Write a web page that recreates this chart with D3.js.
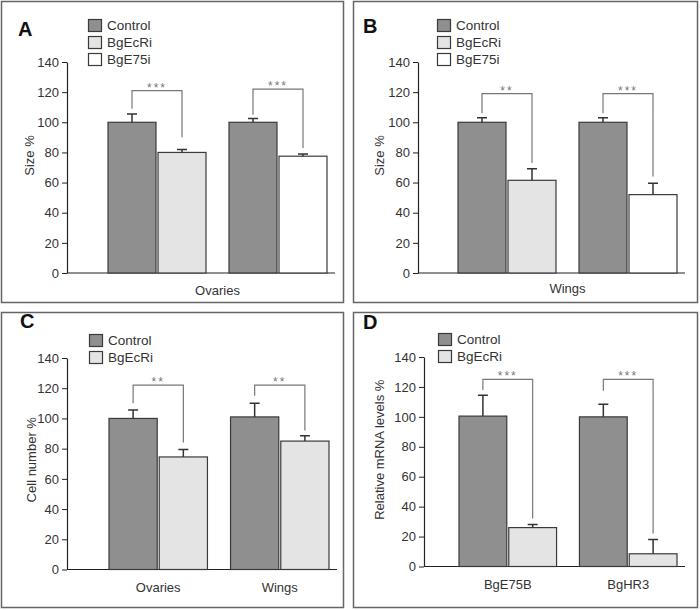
<!DOCTYPE html>
<html>
<head>
<meta charset="utf-8">
<script src="https://cdn.jsdelivr.net/npm/d3@7"></script>
<style>
  body { margin: 0; background: #fff; }
  svg { font-family: "Liberation Sans", Arial, sans-serif; }
</style>
</head>
<body>
<div id="chart"></div>
<script>
// Shared ticks and legend colours
const yTicks = [0, 20, 40, 60, 80, 100, 120, 140];
const seriesNames = ["Control", "BgEcRi", "BgE75i"];
const seriesColors = ["#8f8f8f", "#e4e4e4", "#ffffff"];

// Panel A - size, ovaries
const aCategories = ["Ovaries"];
const aPairs = [["Control", "BgEcRi"], ["Control", "BgE75i"]];
const aMeans = [[100, 80], [100, 77.5]];
const aErrors = [[5.5, 2], [2.5, 1.5]];
const aStars = ["***", "***"];
const aBrackets = [[121, 109, 90], [122, 105, 83]]; // top, left end, right end

// Panel B - size, wings
const bCategories = ["Wings"];
const bPairs = [["Control", "BgEcRi"], ["Control", "BgE75i"]];
const bMeans = [[100, 61.5], [100, 52]];
const bErrors = [[3, 7.7], [3, 7.5]];
const bStars = ["**", "***"];
const bBrackets = [[119, 106, 73], [119, 106, 64]];

// Panel C - cell number
const cCategories = ["Ovaries", "Wings"];
const cPairs = [["Control", "BgEcRi"], ["Control", "BgEcRi"]];
const cMeans = [[100, 74.5], [101, 85]];
const cErrors = [[5.5, 5], [9, 3.5]];
const cStars = ["**", "**"];
const cBrackets = [[122, 110, 84], [122, 115, 92]];

// Panel D - relative mRNA
const dCategories = ["BgE75B", "BgHR3"];
const dPairs = [["Control", "BgEcRi"], ["Control", "BgEcRi"]];
const dMeans = [[100.5, 26], [100, 8.5]];
const dErrors = [[14, 2], [8.5, 9.5]];
const dStars = ["***", "***"];
const dBrackets = [[125, 118, 32], [125, 117.5, 22]];

const svg = d3.select("#chart").append("svg")
    .attr("width", 700)
    .attr("height", 610);

const color = d3.scaleOrdinal().domain(seriesNames).range(seriesColors);

function drawPanel(p) {
    const g = svg.append("g");

    // Frame
    g.append("rect")
        .attr("x", p.frame[0] + 0.5).attr("y", p.frame[1] + 0.5)
        .attr("width", p.frame[2]).attr("height", p.frame[3])
        .attr("fill", "none").attr("stroke", "#666").attr("stroke-width", 1.5);

    // Panel letter
    g.append("text")
        .attr("x", p.letterPos[0]).attr("y", p.letterPos[1])
        .attr("font-size", 20).attr("font-weight", "bold")
        .attr("fill", "#111")
        .text(p.letter);

    const y = d3.scaleLinear().domain([0, 140]).range([p.y0, p.yTop]);
    const x = d3.scaleBand()
        .domain(d3.range(p.means.length))
        .range([p.barStart, p.barEnd])
        .paddingInner(0.19).paddingOuter(0);
    const xInner = d3.scaleBand()
        .domain([0, 1])
        .range([0, x.bandwidth()])
        .paddingInner(0.04);

    // Y axis
    const yAxis = g.append("g")
        .attr("transform", `translate(${p.axisX},0)`)
        .call(d3.axisLeft(y).tickValues(yTicks).tickSize(5).tickSizeOuter(0).tickPadding(3));
    yAxis.select(".domain").attr("stroke", "#222").attr("stroke-width", 1.2);
    yAxis.selectAll(".tick line").attr("stroke", "#222").attr("stroke-width", 1);
    yAxis.selectAll(".tick text")
        .attr("font-size", 13).attr("fill", "#333")
        .style("font-family", "Liberation Sans, Arial, sans-serif");

    // X axis baseline
    g.append("line")
        .attr("x1", p.axisX).attr("x2", p.barEnd + 8)
        .attr("y1", y(0)).attr("y2", y(0))
        .attr("stroke", "#222").attr("stroke-width", 1.2);

    // Y label
    g.append("text")
        .attr("transform", `translate(${p.yLabelX},${(y(0) + y(140)) / 2 + p.yLabelShift}) rotate(-90)`)
        .attr("text-anchor", "middle")
        .attr("dominant-baseline", "middle")
        .attr("font-size", 13).attr("fill", "#333")
        .text(p.yLabel);

    // Category labels
    if (p.categories.length === 1) {
        g.append("text")
            .attr("x", (p.barStart + p.barEnd) / 2).attr("y", p.catY)
            .attr("text-anchor", "middle")
            .attr("font-size", 13).attr("fill", "#333")
            .text(p.categories[0]);
    } else {
        g.selectAll(".cat")
            .data(p.categories)
            .enter().append("text")
            .attr("x", (d, i) => x(i) + x.bandwidth() / 2)
            .attr("y", p.catY)
            .attr("text-anchor", "middle")
            .attr("font-size", 13).attr("fill", "#333")
            .text(d => d);
    }

    // Flatten bars
    const bars = [];
    p.means.forEach((pair, gi) => {
        pair.forEach((v, bi) => {
            bars.push({group: gi, idx: bi, value: v, err: p.errors[gi][bi], series: p.pairs[gi][bi]});
        });
    });
    const cx = d => x(d.group) + xInner(d.idx) + xInner.bandwidth() / 2;

    g.selectAll(".bar")
        .data(bars)
        .enter().append("rect")
        .attr("x", d => x(d.group) + xInner(d.idx))
        .attr("y", d => y(d.value))
        .attr("width", xInner.bandwidth())
        .attr("height", d => y(0) - y(d.value))
        .attr("fill", d => color(d.series))
        .attr("stroke", "#3a3a3a").attr("stroke-width", 1.2);

    // Error bars (upper only)
    g.selectAll(".err")
        .data(bars)
        .enter().append("path")
        .attr("d", d => `M${cx(d)},${y(d.value)}V${y(d.value + d.err)}M${cx(d) - 5},${y(d.value + d.err)}H${cx(d) + 5}`)
        .attr("fill", "none").attr("stroke", "#333").attr("stroke-width", 1.5);

    // Significance brackets
    g.selectAll(".bracket")
        .data(p.brackets)
        .enter().append("path")
        .attr("d", (b, gi) => {
            const x1 = x(gi) + xInner(0) + xInner.bandwidth() / 2;
            const x2 = x(gi) + xInner(1) + xInner.bandwidth() / 2;
            return `M${x1},${y(b[1])}V${y(b[0])}H${x2}V${y(b[2])}`;
        })
        .attr("fill", "none").attr("stroke", "#777").attr("stroke-width", 1.2);

    g.selectAll(".stars")
        .data(p.stars)
        .enter().append("text")
        .attr("x", (s, gi) => x(gi) + x.bandwidth() / 2)
        .attr("y", (s, gi) => y(p.brackets[gi][0]) + 1)
        .attr("text-anchor", "middle")
        .attr("font-size", 12).attr("letter-spacing", 2)
        .attr("fill", "#777")
        .text(s => s);

    // Legend
    const legend = g.append("g")
        .attr("transform", `translate(${p.legendPos[0]},${p.legendPos[1]})`);
    const items = legend.selectAll(".item")
        .data(p.legendItems)
        .enter().append("g")
        .attr("transform", (d, i) => `translate(0,${i * 17})`);
    items.append("rect")
        .attr("x", 0.5).attr("y", 0.5)
        .attr("width", 13).attr("height", 12)
        .attr("fill", d => color(d))
        .attr("stroke", "#3a3a3a").attr("stroke-width", 1.2);
    items.append("text")
        .attr("x", 19).attr("y", 11)
        .attr("font-size", 13.5).attr("fill", "#333")
        .text(d => d);
}

drawPanel({
    letter: "A", frame: [1, 1, 342, 301], letterPos: [18, 36],
    axisX: 67, y0: 273, yTop: 62, barStart: 108, barEnd: 327,
    yLabel: "Size %", yLabelX: 31, yLabelShift: -12, catY: 295, legendPos: [88, 19],
    legendItems: seriesNames,
    categories: aCategories, pairs: aPairs, means: aMeans, errors: aErrors,
    stars: aStars, brackets: aBrackets
});

drawPanel({
    letter: "B", frame: [353, 1, 344, 301], letterPos: [363, 33],
    axisX: 418, y0: 273, yTop: 62, barStart: 458, barEnd: 677,
    yLabel: "Size %", yLabelX: 381, yLabelShift: -12, catY: 293, legendPos: [437, 19],
    legendItems: seriesNames,
    categories: bCategories, pairs: bPairs, means: bMeans, errors: bErrors,
    stars: bStars, brackets: bBrackets
});

drawPanel({
    letter: "C", frame: [1, 312, 342, 295], letterPos: [20, 328],
    axisX: 67, y0: 569.5, yTop: 358, barStart: 109, barEnd: 329,
    yLabel: "Cell number  %", yLabelX: 33, yLabelShift: -4, catY: 592, legendPos: [89, 334],
    legendItems: seriesNames.slice(0, 2),
    categories: cCategories, pairs: cPairs, means: cMeans, errors: cErrors,
    stars: cStars, brackets: cBrackets
});

drawPanel({
    letter: "D", frame: [353, 312, 344, 295], letterPos: [363, 329],
    axisX: 424, y0: 566.5, yTop: 357, barStart: 459, barEnd: 677,
    yLabel: "Relative mRNA levels %", yLabelX: 381, yLabelShift: -12, catY: 589, legendPos: [438, 333],
    legendItems: seriesNames.slice(0, 2),
    categories: dCategories, pairs: dPairs, means: dMeans, errors: dErrors,
    stars: dStars, brackets: dBrackets
});
</script>
</body>
</html>
